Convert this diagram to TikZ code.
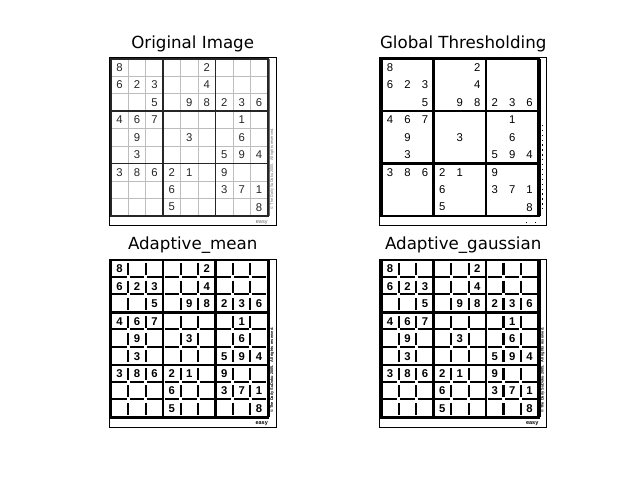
\documentclass[tikz,border=0pt]{standalone}
\usepackage{fontspec}
\setmainfont{DejaVu Sans}
\newfontfamily\digitfont{Liberation Sans}
\definecolor{origdark}{HTML}{262626}
\definecolor{origthin}{HTML}{BDBDBD}
\definecolor{origtext}{HTML}{262626}
\definecolor{origsmall}{HTML}{6E6E6E}
\def\cellsz{17.45}
\def\gridx{1.6}
\def\gridy{1.0}
\def\givens{1/1/8,1/6/2,2/1/6,2/2/2,2/3/3,2/6/4,3/3/5,3/5/9,3/6/8,3/7/2,3/8/3,3/9/6,4/1/4,4/2/6,4/3/7,4/8/1,5/2/9,5/5/3,5/8/6,6/2/3,6/7/5,6/8/9,6/9/4,7/1/3,7/2/8,7/3/6,7/4/2,7/5/1,7/7/9,8/4/6,8/7/3,8/8/7,8/9/1,9/4/5,9/9/8}
\tikzset{
  titletext/.style={font=\fontsize{16.67}{20}\selectfont, anchor=base, inner sep=0pt},
  digit/.style={font=\digitfont\fontsize{11.3}{11}\selectfont, inner sep=0pt, anchor=center},
  bolddigit/.style={font=\digitfont\bfseries\fontsize{11.3}{11}\selectfont, inner sep=0pt, anchor=center},
  smalltext/.style={font=\digitfont\fontsize{3.9}{4}\selectfont, inner sep=0pt},
  easytext/.style={font=\digitfont\fontsize{5.5}{6}\selectfont, inner sep=0pt},
  spine/.style={draw=black, line width=1.1pt},
  origthinline/.style={draw=origthin, line width=0.9pt},
  origthickline/.style={draw=origdark, line width=1.9pt},
  blackthick/.style={draw=black, line width=2.5pt},
  adline/.style={draw=black, line width=2.1pt},
}
\newcommand\sudpanel[4]{%
\begin{scope}[shift={(#1,#2)}]
\fill[white] (0,0) rectangle (167,168);
\ifcase#4
  % original image
  \foreach \i in {1,2,4,5,7,8}{
    \draw[origthinline] (\gridx+\i*\cellsz,\gridy) -- (\gridx+\i*\cellsz,\gridy+9*\cellsz);
    \draw[origthinline] (\gridx,\gridy+\i*\cellsz) -- (\gridx+9*\cellsz,\gridy+\i*\cellsz);
  }
  \foreach \i in {3,6}{
    \draw[origthickline] (\gridx+\i*\cellsz,\gridy) -- (\gridx+\i*\cellsz,\gridy+9*\cellsz);
    \draw[origthickline] (\gridx,\gridy+\i*\cellsz) -- (\gridx+9*\cellsz,\gridy+\i*\cellsz);
  }
  \draw[origthickline] (\gridx,\gridy) rectangle (\gridx+9*\cellsz,\gridy+9*\cellsz);
  \draw[draw=origsmall, line width=0.9pt] (\gridx+9*\cellsz+1.7,\gridy) -- (\gridx+9*\cellsz+1.7,\gridy+9*\cellsz);
  \foreach \ra/\ca/\da in \givens{
    \node[digit, text=origtext] (p#3-\ra-\ca) at (\gridx+\ca*\cellsz-0.5*\cellsz, \gridy+\ra*\cellsz-0.5*\cellsz) {\da};
  }
  \node[smalltext, text=origsmall, rotate=90] (p#3-copy) at (162.8,111) {© The Daily SuDoku 2005.~~All rights reserved.};
  \node[easytext, text=origsmall] (p#3-easy) at (152.5,164.3) {easy};
\or
  % global threshold
  \foreach \i in {3,6}{
    \draw[blackthick] (\gridx+\i*\cellsz,\gridy) -- (\gridx+\i*\cellsz,\gridy+9*\cellsz);
    \draw[blackthick] (\gridx,\gridy+\i*\cellsz) -- (\gridx+9*\cellsz,\gridy+\i*\cellsz);
  }
  \draw[blackthick] (\gridx,\gridy) rectangle (\gridx+9*\cellsz,\gridy+9*\cellsz);
  \draw[draw=black, line width=1pt] (\gridx+9*\cellsz+2,\gridy) -- (\gridx+9*\cellsz+2,\gridy+9*\cellsz);
  \foreach \ra/\ca/\da in \givens{
    \node[digit, text=black] (p#3-\ra-\ca) at (\gridx+\ca*\cellsz-0.5*\cellsz, \gridy+\ra*\cellsz-0.5*\cellsz) {\da};
  }
  \draw[draw=black, line width=1pt, dash pattern=on 1.3pt off 3.6pt] (162.5,67) -- (162.5,152);
  \fill[black] (146.5,164.2) rectangle (147.6,165.3);
  \fill[black] (155.5,164.2) rectangle (156.6,165.3);
\or
  % adaptive mean
  \foreach \i in {1,2,4,5,7,8}{\foreach \j in {0,...,8}{
    \draw[adline] (\gridx+\i*\cellsz,\gridy+\j*\cellsz+3) -- (\gridx+\i*\cellsz,\gridy+\j*\cellsz+\cellsz-2.5);
    \draw[adline] (\gridx+\j*\cellsz+1.5,\gridy+\i*\cellsz-0.8) -- (\gridx+\j*\cellsz+\cellsz-1.5,\gridy+\i*\cellsz-0.8);
  }}
  \foreach \i in {3,6}{
    \draw[blackthick] (\gridx+\i*\cellsz,\gridy) -- (\gridx+\i*\cellsz,\gridy+9*\cellsz);
    \draw[blackthick] (\gridx,\gridy+\i*\cellsz) -- (\gridx+9*\cellsz,\gridy+\i*\cellsz);
  }
  \draw[blackthick] (\gridx,\gridy) rectangle (\gridx+9*\cellsz,\gridy+9*\cellsz);
  \draw[draw=black, line width=1pt] (\gridx+9*\cellsz+2,\gridy) -- (\gridx+9*\cellsz+2,\gridy+9*\cellsz);
  \foreach \ra/\ca/\da in \givens{
    \node[bolddigit, text=black] (p#3-\ra-\ca) at (\gridx+\ca*\cellsz-0.5*\cellsz, \gridy+\ra*\cellsz-0.5*\cellsz) {\da};
  }
  \node[smalltext, font=\digitfont\bfseries\fontsize{3.9}{4}\selectfont, text=black, rotate=90] (p#3-copy) at (162.8,111) {© The Daily SuDoku 2005.~~All rights reserved.};
  \node[easytext, font=\digitfont\bfseries\fontsize{5.5}{6}\selectfont, text=black] (p#3-easy) at (152.5,164.3) {easy};
\or
  % adaptive gaussian
  \foreach \i in {1,2,4,5,7,8}{\foreach \j in {0,...,8}{
    \draw[adline] (\gridx+\i*\cellsz,\gridy+\j*\cellsz+3) -- (\gridx+\i*\cellsz,\gridy+\j*\cellsz+\cellsz-2.5);
    \draw[adline] (\gridx+\j*\cellsz+1.5,\gridy+\i*\cellsz-0.8) -- (\gridx+\j*\cellsz+\cellsz-1.5,\gridy+\i*\cellsz-0.8);
  }}
  \foreach \i in {3,6}{
    \draw[blackthick] (\gridx+\i*\cellsz,\gridy) -- (\gridx+\i*\cellsz,\gridy+9*\cellsz);
    \draw[blackthick] (\gridx,\gridy+\i*\cellsz) -- (\gridx+9*\cellsz,\gridy+\i*\cellsz);
  }
  \draw[blackthick] (\gridx,\gridy) rectangle (\gridx+9*\cellsz,\gridy+9*\cellsz);
  \draw[draw=black, line width=1pt] (\gridx+9*\cellsz+2,\gridy) -- (\gridx+9*\cellsz+2,\gridy+9*\cellsz);
  \foreach \ra/\ca/\da in \givens{
    \node[bolddigit, text=black] (p#3-\ra-\ca) at (\gridx+\ca*\cellsz-0.5*\cellsz, \gridy+\ra*\cellsz-0.5*\cellsz) {\da};
  }
  \node[smalltext, font=\digitfont\bfseries\fontsize{3.9}{4}\selectfont, text=black, rotate=90] (p#3-copy) at (162.8,111) {© The Daily SuDoku 2005.~~All rights reserved.};
  \node[easytext, font=\digitfont\bfseries\fontsize{5.5}{6}\selectfont, text=black] (p#3-easy) at (152.5,164.3) {easy};
\fi
\draw[spine] (0,0) rectangle (167,168);
\end{scope}}

\begin{document}
\begin{tikzpicture}[x=1pt,y=-1pt]
\useasboundingbox (0,0) rectangle (640,480);
\fill[white] (0,0) rectangle (640,480);
\sudpanel{109.2}{57.8}{1}{0}
\sudpanel{379.7}{57.8}{2}{1}
\sudpanel{109.2}{259.2}{3}{2}
\sudpanel{379.7}{259.2}{4}{3}
\node[titletext] (t1) at (192.7,48.3) {Original Image};
\node[titletext] (t2) at (463.2,48.3) {Global Thresholding};
\node[titletext] (t3) at (192.7,249.6) {Adaptive\_mean};
\node[titletext] (t4) at (463.2,249.6) {Adaptive\_gaussian};
\end{tikzpicture}
\end{document}
